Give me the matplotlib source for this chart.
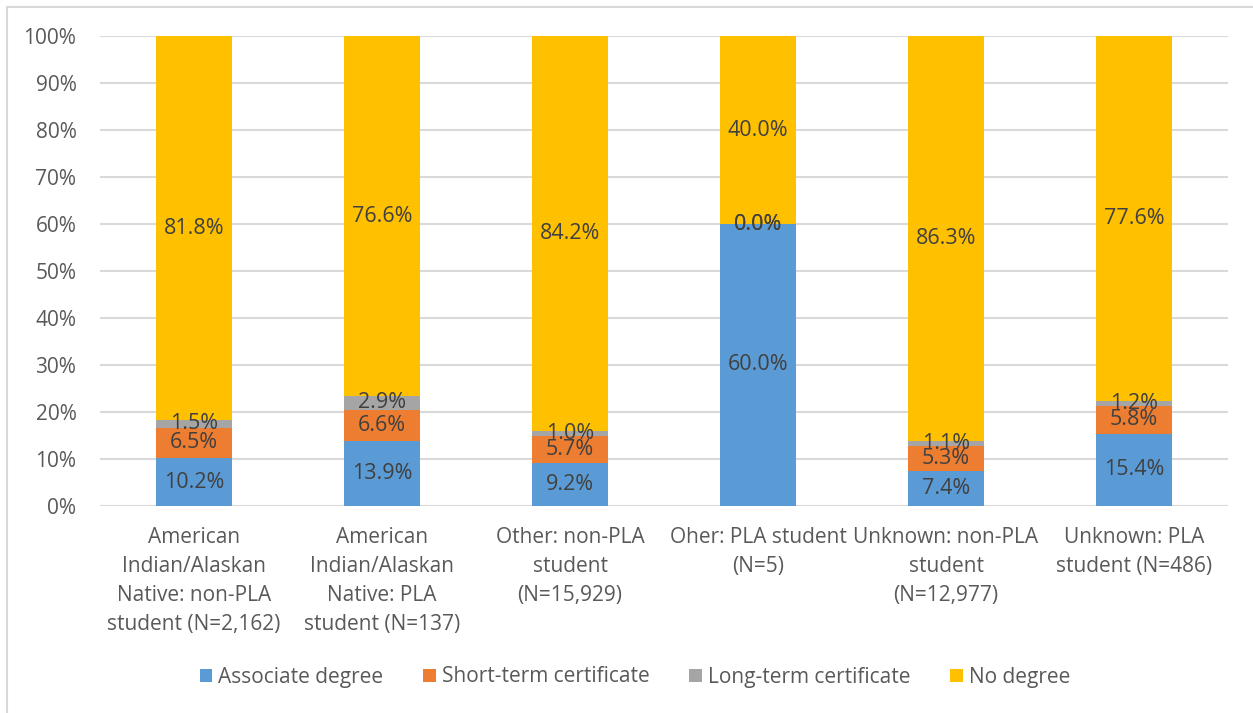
import matplotlib
matplotlib.use("Agg")
import matplotlib.pyplot as plt
from matplotlib.patches import Patch
from matplotlib.lines import Line2D

plt.rcParams['font.family'] = ['Open Sans', 'DejaVu Sans']

categories = [
    "American\nIndian/Alaskan\nNative: non-PLA\nstudent (N=2,162)",
    "American\nIndian/Alaskan\nNative: PLA\nstudent (N=137)",
    "Other: non-PLA\nstudent\n(N=15,929)",
    "Oher: PLA student\n(N=5)",
    "Unknown: non-PLA\nstudent\n(N=12,977)",
    "Unknown: PLA\nstudent (N=486)",
]
associate = [10.2, 13.9, 9.2, 60.0, 7.4, 15.4]
short_term = [6.5, 6.6, 5.7, 0.0, 5.3, 5.8]
long_term = [1.5, 2.9, 1.0, 0.0, 1.1, 1.2]
no_degree = [81.8, 76.6, 84.2, 40.0, 86.3, 77.6]

series_names = ["Associate degree", "Short-term certificate",
                "Long-term certificate", "No degree"]
series_values = [associate, short_term, long_term, no_degree]
colors = ["#5B9BD5", "#ED7D31", "#A5A5A5", "#FFC000"]
yticks = [0, 10, 20, 30, 40, 50, 60, 70, 80, 90, 100]

W, H = 1253, 713
fig = plt.figure(figsize=(W / 100, H / 100), dpi=100)
ax = fig.add_axes([100 / W, 1 - 506 / H, 1128 / W, 470 / H])

# Outer chart frame (top and left edges)
fig.add_artist(Line2D([7 / W, 1.0], [1 - 7 / H, 1 - 7 / H], color="#D9D9D9",
                      lw=1.5, transform=fig.transFigure))
fig.add_artist(Line2D([7 / W, 7 / W], [0, 1 - 7 / H], color="#D9D9D9",
                      lw=1.5, transform=fig.transFigure))

x = list(range(len(categories)))
bottoms = [0.0] * len(categories)
label_color = "#404040"
for vals, col in zip(series_values, colors):
    ax.bar(x, vals, bottom=bottoms, width=0.404, color=col, zorder=2)
    for i, v in enumerate(vals):
        ax.text(x[i], bottoms[i] + v / 2, f"{v:.1f}%", ha="center",
                va="center", fontsize=15.5, color=label_color, zorder=3)
    bottoms = [b + v for b, v in zip(bottoms, vals)]

ax.set_xlim(-0.5, len(categories) - 0.5)
ax.set_ylim(0, 100)
ax.set_yticks(yticks)
ax.set_yticklabels([f"{t}%" for t in yticks])
ax.set_xticks(x)
ax.set_xticklabels(categories, linespacing=1.5)
ax.tick_params(axis="y", length=0, pad=17, labelsize=15, labelcolor="#595959")
ax.tick_params(axis="x", length=0, pad=15, labelsize=15, labelcolor="#595959")
for s in ax.spines.values():
    s.set_visible(False)
ax.yaxis.grid(True, color="#D9D9D9", lw=1.5, zorder=0)
ax.set_axisbelow(True)

handles = [Patch(facecolor=c, edgecolor="none") for c in colors]
fig.legend(handles, series_names, loc="center", bbox_to_anchor=(635 / W, 1 - 677 / H),
           ncol=4, frameon=False, fontsize=15, labelcolor="#595959",
           handlelength=0.6, handleheight=0.6, handletextpad=0.3, columnspacing=1.9)

fig.savefig("out.png", dpi=100, facecolor="white")
